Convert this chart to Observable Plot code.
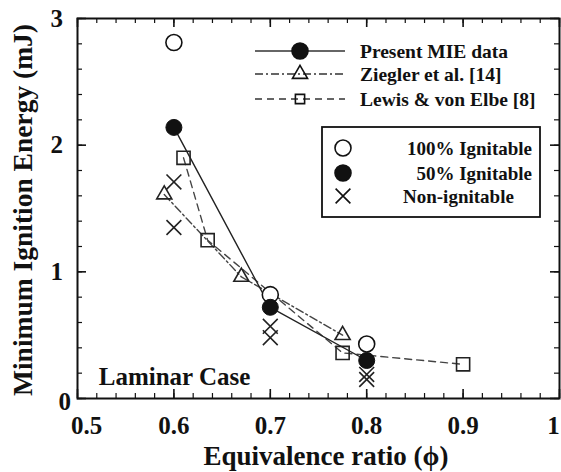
<!DOCTYPE html>
<html><head><meta charset="utf-8">
<script src="https://cdn.jsdelivr.net/npm/d3@7"></script>
<script src="https://cdn.jsdelivr.net/npm/@observablehq/plot@0.6"></script>
<style>body{margin:0;background:#fff} svg{display:block}</style>
</head><body><div id="chart"></div>
<script>
// Present MIE data (50% ignitable points, connected by solid line)
const mieX = [0.6, 0.7, 0.8];
const mieY = [2.14, 0.72, 0.30];
// 100% ignitable
const fullX = [0.6, 0.7, 0.8];
const fullY = [2.81, 0.82, 0.43];
// Non-ignitable
const nonX = [0.6, 0.6, 0.7, 0.7, 0.8, 0.8];
const nonY = [1.71, 1.35, 0.57, 0.48, 0.19, 0.15];
// Ziegler et al. [14]
const zieX = [0.59, 0.67, 0.775];
const zieY = [1.61, 0.96, 0.50];
// Lewis & von Elbe [8]
const lewX = [0.61, 0.635, 0.775, 0.9];
const lewY = [1.90, 1.25, 0.36, 0.27];

const xTicks = [0.5, 0.6, 0.7, 0.8, 0.9, 1.0];
const xTickLabels = ["0.5", "0.6", "0.7", "0.8", "0.9", "1"];
const yTicks = [0, 1, 2, 3];
const yTickLabels = ["0", "1", "2", "3"];
const xMinor = d3.range(0.5, 1.0001, 0.02).map(v => +v.toFixed(2));
const yMinor = d3.range(0, 3.0001, 0.2).map(v => +v.toFixed(1));

const zip = (xs, ys) => xs.map((x, i) => ({x, y: ys[i]}));
const mie = zip(mieX, mieY), full = zip(fullX, fullY), non = zip(nonX, nonY);
const zie = zip(zieX, zieY), lew = zip(lewX, lewY);

const W = 561, H = 472, ML = 77, MR = 2, MT = 18, MB = 74;
const FW = W - ML - MR, FH = H - MT - MB;
const font = "Liberation Serif, Times New Roman, serif";
const ink = "#111";

const plot = Plot.plot({
  width: W, height: H,
  marginLeft: ML, marginRight: MR, marginTop: MT, marginBottom: MB,
  x: {domain: [0.5, 1.0], axis: null},
  y: {domain: [0, 3], axis: null},
  style: {fontFamily: font, background: "#fff"},
  marks: [
    // ticks (inward)
    Plot.ruleX(xMinor, {x: d => d, insetTop: FH - 5, stroke: ink, strokeWidth: 1.2}),
    Plot.ruleX(xMinor, {x: d => d, insetBottom: FH - 5, stroke: ink, strokeWidth: 1.2}),
    Plot.ruleX(xTicks, {x: d => d, insetTop: FH - 9, stroke: ink, strokeWidth: 1.6}),
    Plot.ruleX(xTicks, {x: d => d, insetBottom: FH - 9, stroke: ink, strokeWidth: 1.6}),
    Plot.ruleY(yMinor, {y: d => d, insetRight: FW - 5, stroke: ink, strokeWidth: 1.2}),
    Plot.ruleY(yMinor, {y: d => d, insetLeft: FW - 5, stroke: ink, strokeWidth: 1.2}),
    Plot.ruleY(yTicks, {y: d => d, insetRight: FW - 9, stroke: ink, strokeWidth: 1.6}),
    Plot.ruleY(yTicks, {y: d => d, insetLeft: FW - 9, stroke: ink, strokeWidth: 1.6}),
    Plot.frame({stroke: ink, strokeWidth: 2}),
    // tick labels
    Plot.text(xTicks.slice(1, 5), {x: d => d, frameAnchor: "bottom", dy: 35,
      text: (d, i) => xTickLabels[i + 1], fontSize: 25, fontWeight: "bold", fill: ink}),
    Plot.text(xTicks.slice(0, 1), {x: d => d, frameAnchor: "bottom", dy: 35, dx: 9,
      text: d => xTickLabels[0], fontSize: 25, fontWeight: "bold", fill: ink}),
    Plot.text(xTicks.slice(5), {x: d => d, frameAnchor: "bottom", dy: 35, dx: -6,
      text: d => xTickLabels[5], fontSize: 25, fontWeight: "bold", fill: ink}),
    Plot.text(yTicks.slice(1), {y: d => d, frameAnchor: "left", dx: -27,
      text: (d, i) => yTickLabels[i + 1], fontSize: 25, fontWeight: "bold", fill: ink}),
    Plot.text(yTicks.slice(0, 1), {y: d => d, frameAnchor: "left", dx: -19, dy: 3,
      text: d => yTickLabels[0], fontSize: 25, fontWeight: "bold", fill: ink}),
    // lines
    Plot.line(lew, {x: "x", y: "y", stroke: "#444", strokeWidth: 1.4, strokeDasharray: "7,5"}),
    Plot.line(zie, {x: "x", y: "y", stroke: "#444", strokeWidth: 1.4, strokeDasharray: "8,3,2,3"}),
    Plot.line(mie, {x: "x", y: "y", stroke: "#222", strokeWidth: 1.4}),
    // markers
    Plot.dot(lew, {x: "x", y: "y", symbol: "square", r: 7.4, stroke: "#222", fill: "none", strokeWidth: 1.6}),
    Plot.dot(zie, {x: "x", y: "y", symbol: "triangle", r: 5.6, stroke: "#222", fill: "none", strokeWidth: 1.6}),
    Plot.dot(non, {x: "x", y: "y", symbol: "times", r: 6.8, stroke: "#222", strokeWidth: 1.6}),
    Plot.dot(full, {x: "x", y: "y", symbol: "circle", r: 8, stroke: "#111", fill: "#fff", strokeWidth: 1.6}),
    Plot.dot(mie, {x: "x", y: "y", symbol: "circle", r: 8, stroke: "#111", fill: "#111", strokeWidth: 1}),
    // annotation
    Plot.text(["Laminar Case"], {x: () => 0.522, y: () => 0.17, textAnchor: "start", text: d => d,
      fontSize: 25, fontWeight: "bold", fill: ink})
  ]
});
document.getElementById("chart").appendChild(plot);

const svg = d3.select(plot);
// Axis titles
svg.append("text").attr("x", ML + FW / 2 + 8).attr("y", 456).attr("dy", "0.35em")
  .attr("text-anchor", "middle").attr("font-family", font).attr("font-weight", "bold")
  .attr("font-size", 27).attr("fill", ink).text("Equivalence ratio (\u03d5)");
svg.append("text").attr("transform", `translate(22,${MT + FH / 2 + 2}) rotate(-90)`).attr("dy", "0.35em")
  .attr("text-anchor", "middle").attr("font-family", font).attr("font-weight", "bold")
  .attr("font-size", 27.5).attr("fill", ink).text("Minimum Ignition Energy (mJ)");

// Legends (pixel layout)
const g = svg.append("g").attr("font-family", font).attr("font-weight", "bold").attr("fill", ink);
const series = [
  {label: "Present MIE data", dash: null, sym: d3.symbolCircle, size: Math.PI * 64, fill: "#111"},
  {label: "Ziegler et al. [14]", dash: "8,3,2,3", sym: d3.symbolTriangle, size: Math.PI * 5.6 * 5.6, fill: "none"},
  {label: "Lewis & von Elbe [8]", dash: "7,5", sym: d3.symbolSquare, size: Math.PI * 5.2 * 5.2, fill: "none"}
];
const rowsY = [51, 74, 99];
series.forEach((s, i) => {
  const y = rowsY[i];
  g.append("line").attr("x1", 255).attr("x2", 345).attr("y1", y).attr("y2", y)
    .attr("stroke", "#333").attr("stroke-width", 1.4).attr("stroke-dasharray", s.dash);
  g.append("path").attr("d", d3.symbol(s.sym, s.size)()).attr("transform", `translate(300,${y})`)
    .attr("fill", s.fill).attr("stroke", "#111").attr("stroke-width", 1.6);
  g.append("text").attr("x", 360).attr("y", y).attr("dy", "0.35em").attr("font-size", 19.5)
    .attr("text-anchor", "start").text(s.label);
});
g.append("rect").attr("x", 322).attr("y", 127).attr("width", 218).attr("height", 90)
  .attr("fill", "#fff").attr("stroke", ink).attr("stroke-width", 1.8);
const cats = [
  {label: "100% Ignitable", sym: d3.symbolCircle, fill: "#fff", anchor: "end", tx: 532},
  {label: "50% Ignitable", sym: d3.symbolCircle, fill: "#111", anchor: "end", tx: 532},
  {label: "Non-ignitable", sym: d3.symbolTimes, fill: "none", anchor: "start", tx: 403}
];
const catY = [148, 173, 196];
cats.forEach((c, i) => {
  const y = catY[i];
  g.append("path").attr("d", d3.symbol(c.sym, Math.PI * (c.sym === d3.symbolTimes ? 46 : 64))())
    .attr("transform", `translate(343,${y})`).attr("fill", c.fill).attr("stroke", "#111").attr("stroke-width", 1.6);
  g.append("text").attr("x", c.tx).attr("y", y).attr("dy", "0.35em").attr("font-size", 19)
    .attr("text-anchor", c.anchor).text(c.label);
});
</script></body></html>
